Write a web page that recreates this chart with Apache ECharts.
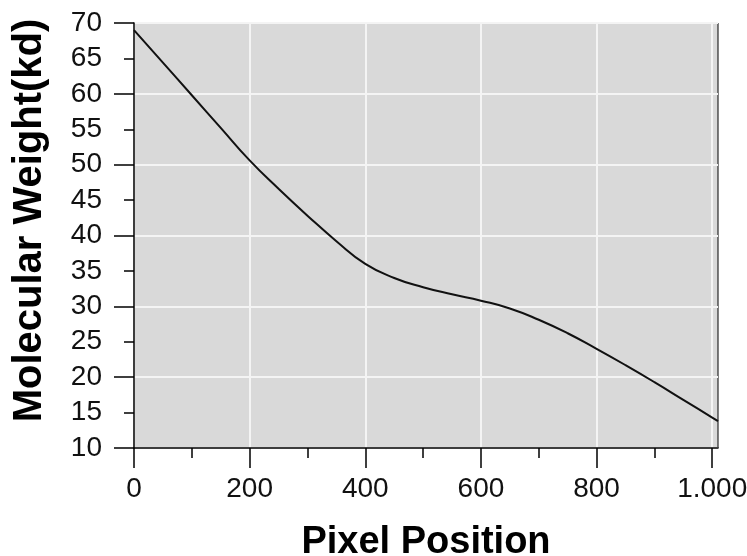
<!DOCTYPE html>
<html>
<head>
<meta charset="utf-8">
<script src="https://cdn.jsdelivr.net/npm/echarts@6/dist/echarts.min.js"></script>
<style>html,body{margin:0;padding:0;background:#fff}#c{width:747px;height:556px}</style>
</head>
<body>
<div id="c"></div>
<script>
var pixelPositions = [0, 50, 100, 150, 200, 250, 300, 350, 400, 450, 500, 550, 600, 650, 700, 750, 800, 850, 900, 950, 1000, 1010];
var molecularWeights = [69.0, 64.4, 59.8, 55.2, 50.6, 46.6, 42.8, 39.2, 36.0, 34.0, 32.7, 31.7, 30.8, 29.7, 28.1, 26.2, 24.0, 21.7, 19.3, 16.8, 14.3, 13.8];
var xMajorTicks = [0, 200, 400, 600, 800, 1000];
var xMinorTicks = [100, 300, 500, 700, 900];
var xTickLabels = ['0', '200', '400', '600', '800', '1.000'];

var chart = echarts.init(document.getElementById('c'), null, {renderer: 'canvas'});
var font = 'Liberation Sans';
var data = pixelPositions.map(function (x, i) { return [x, molecularWeights[i]]; });

chart.setOption({
  animation: false,
  backgroundColor: '#ffffff',
  grid: {
    left: 134, right: 29, top: 23, bottom: 108,
    outerBoundsMode: 'none', containLabel: false,
    show: true, backgroundColor: '#d9d9d9', borderColor: '#000', borderWidth: 1
  },
  xAxis: [{
    type: 'value', min: 0, max: 1010,
    name: 'Pixel Position', nameLocation: 'middle', nameGap: 76,
    nameTextStyle: {fontFamily: font, fontWeight: 'bold', fontSize: 38, color: '#000'},
    axisLine: {show: true, lineStyle: {color: '#000', width: 1.5}},
    axisTick: {show: true, length: 20, customValues: xMajorTicks, lineStyle: {color: '#000', width: 1.5}},
    axisLabel: {show: true, customValues: xMajorTicks, margin: 27, fontFamily: font, fontSize: 28, color: '#111',
      formatter: function (v) { var i = xMajorTicks.indexOf(v); return i >= 0 ? xTickLabels[i] : ''; }},
    splitLine: {show: true, lineStyle: {color: '#f4f4f4', width: 2}}
  }, {
    type: 'value', min: 0, max: 1010, position: 'bottom',
    axisLine: {show: false},
    axisTick: {show: true, length: 10, customValues: xMinorTicks, lineStyle: {color: '#000', width: 1.5}},
    axisLabel: {show: false},
    splitLine: {show: false}
  }],
  yAxis: [{
    type: 'value', min: 10, max: 70, interval: 5,
    name: 'Molecular Weight(kd)', nameLocation: 'middle', nameGap: 84,
    nameTextStyle: {fontFamily: font, fontWeight: 'bold', fontSize: 40, color: '#000', padding: [0, 0, 0, 30]},
    axisLine: {show: true, lineStyle: {color: '#000', width: 1.5}},
    axisTick: {show: true, length: 10, lineStyle: {color: '#000', width: 1.5}},
    axisLabel: {show: true, margin: 32, fontFamily: font, fontSize: 28, color: '#111'},
    splitLine: {show: false}
  }, {
    type: 'value', min: 10, max: 70, interval: 10, position: 'left',
    axisLine: {show: false},
    axisTick: {show: true, length: 20, lineStyle: {color: '#000', width: 1.5}},
    axisLabel: {show: false},
    splitLine: {show: true, lineStyle: {color: '#f4f4f4', width: 2}}
  }],
  series: [{
    type: 'line', xAxisIndex: 0, yAxisIndex: 0, data: data,
    smooth: true, showSymbol: false, symbol: 'none',
    lineStyle: {color: '#111', width: 2}
  }]
});
</script>
</body>
</html>
